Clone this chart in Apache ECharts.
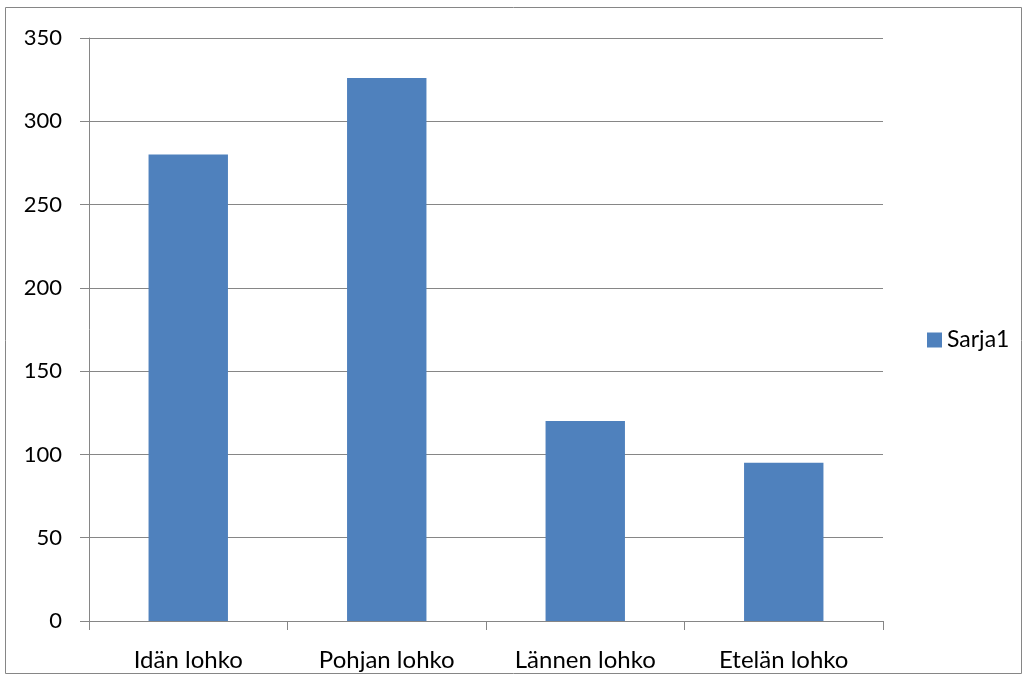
<!DOCTYPE html>
<html><head><meta charset="utf-8">
<script src="https://cdn.jsdelivr.net/npm/echarts@6/dist/echarts.min.js"></script>
<style>html,body{margin:0;padding:0;background:#fff}#c{width:1028px;height:680px}</style>
</head><body><div id="c"></div>
<script>
const categories = ['Idän lohko', 'Pohjan lohko', 'Lännen lohko', 'Etelän lohko'];
const sarja1 = [280, 326, 120, 95];
const seriesName = 'Sarja1';

const chart = echarts.init(document.getElementById('c'), null, {renderer: 'canvas'});
const font = 'Lato, "Open Sans", sans-serif';
chart.setOption({
  animation: false,
  backgroundColor: '#fff',
  graphic: [{type: 'rect', shape: {x: 5.5, y: 7.5, width: 1016, height: 666}, style: {fill: 'none', stroke: '#868686', lineWidth: 1}}],
  legend: {
    data: [seriesName], top: 'middle', orient: 'vertical', left: 922,
    icon: 'rect', itemWidth: 15, itemHeight: 15, itemGap: 6,
    textStyle: {fontFamily: font, fontSize: 23, color: '#000'}
  },
  grid: {left: 89, right: 145, top: 38, bottom: 59, containLabel: false},
  xAxis: {
    type: 'category', data: categories,
    axisLine: {lineStyle: {color: '#868686', width: 1}},
    axisTick: {show: true, length: 9, alignWithLabel: false, lineStyle: {color: '#868686'}},
    axisLabel: {fontFamily: font, fontSize: 24, color: '#000', margin: 27}
  },
  yAxis: {
    type: 'value', min: 0, max: 350, interval: 50,
    axisLine: {show: true, lineStyle: {color: '#868686', width: 1}},
    axisTick: {show: true, length: 9, lineStyle: {color: '#868686'}},
    splitLine: {lineStyle: {color: '#868686', width: 1}},
    axisLabel: {fontFamily: font, fontSize: 22, color: '#000', margin: 27}
  },
  series: [{
    name: seriesName, type: 'bar', data: sarja1, barWidth: '40%',
    itemStyle: {color: '#4F81BD'}
  }]
});
</script></body></html>
